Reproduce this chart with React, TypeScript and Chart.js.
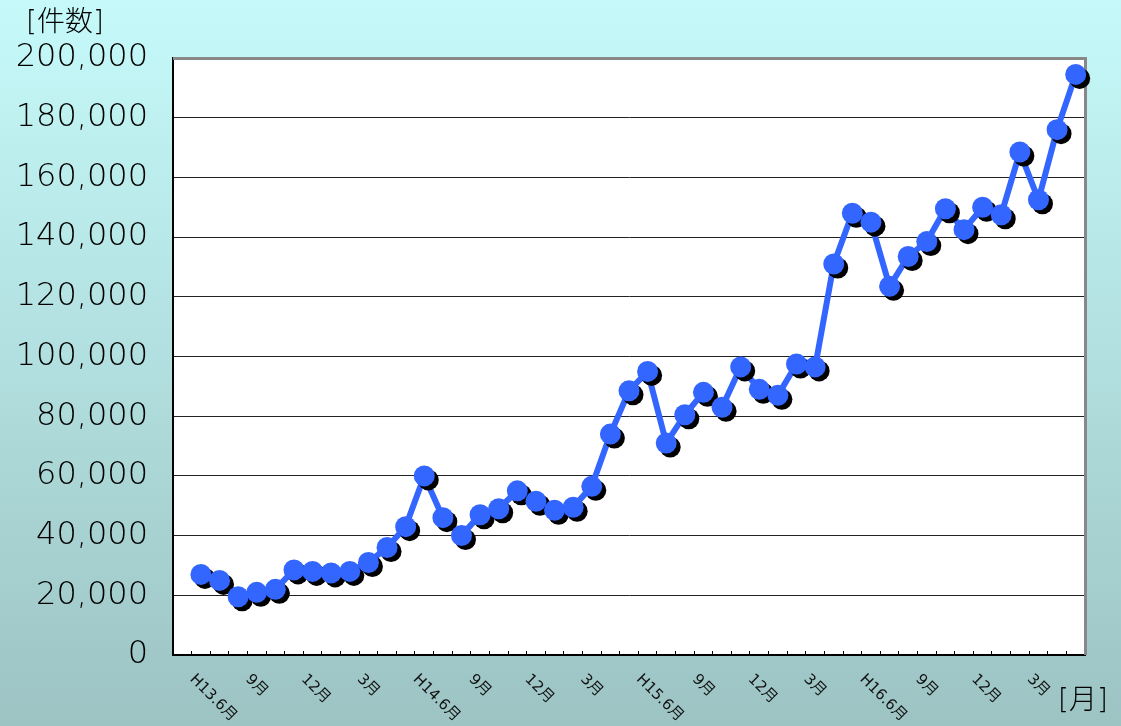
import React, { useEffect, useRef } from 'react';
import { Chart, registerables } from 'chart.js';

Chart.register(...registerables);

// Categories: first slot is an empty category, then June 2001 (H13.6) .. May 2005
const months: string[] = [
  '',
  'H13.6月', '7月', '8月', '9月', '10月', '11月', '12月', '1月', '2月', '3月', '4月', '5月',
  'H14.6月', '7月', '8月', '9月', '10月', '11月', '12月', '1月', '2月', '3月', '4月', '5月',
  'H15.6月', '7月', '8月', '9月', '10月', '11月', '12月', '1月', '2月', '3月', '4月', '5月',
  'H16.6月', '7月', '8月', '9月', '10月', '11月', '12月', '1月', '2月', '3月', '4月', '5月',
];

const counts: (number | null)[] = [
  null,
  27000, 25000, 19500, 21000, 22000, 28500, 28000, 27500, 28000, 31000, 36000, 43000,
  60000, 46000, 40000, 47000, 49000, 55000, 51500, 48500, 49500, 56500, 74000, 88500,
  95000, 71000, 80500, 88000, 83000, 96500, 89000, 87000, 97500, 96500, 131000, 148000,
  145000, 123500, 133500, 138500, 149500, 142500, 150000, 147500, 168500, 152500, 176000, 194500,
];

const yTicks: number[] = [0, 20000, 40000, 60000, 80000, 100000, 120000, 140000, 160000, 180000, 200000];
const yTitle = '[件数]';
const xTitle = '[月]';

const LINE_BLUE = '#3366FF';
const TEXT_FONT = '"DejaVu Sans", "Noto Sans CJK JP", sans-serif';

const decor = {
  id: 'decor',
  beforeDraw(chart: any) {
    const { ctx, width, height, chartArea: a } = chart;
    ctx.save();
    const g = ctx.createLinearGradient(0, 0, 0, height);
    g.addColorStop(0, '#C6FAFA');
    g.addColorStop(1, '#9DC3C3');
    ctx.fillStyle = g;
    ctx.fillRect(0, 0, width, height);
    ctx.fillStyle = '#FFFFFF';
    ctx.fillRect(a.left, a.top, a.right - a.left, a.bottom - a.top);
    ctx.restore();
  },
  beforeDatasetsDraw(chart: any) {
    const { ctx, chartArea: a } = chart;
    ctx.save();
    ctx.strokeStyle = '#888888';
    ctx.lineWidth = 3;
    ctx.beginPath();
    ctx.moveTo(a.left, a.top + 0.5);
    ctx.lineTo(a.right + 0.5, a.top + 0.5);
    ctx.lineTo(a.right + 0.5, a.bottom);
    ctx.stroke();
    ctx.restore();
  },
  beforeDatasetDraw(chart: any, args: any) {
    if (args.index === 0) {
      const ctx = chart.ctx;
      ctx.save();
      ctx.shadowColor = '#000000';
      ctx.shadowOffsetX = 4;
      ctx.shadowOffsetY = 4;
      ctx.shadowBlur = 0;
    }
  },
  afterDatasetDraw(chart: any, args: any) {
    if (args.index === 0) {
      chart.ctx.restore();
    }
  },
  afterDraw(chart: any) {
    const { ctx } = chart;
    const xs = chart.scales.x;
    ctx.save();
    ctx.fillStyle = '#111111';
    ctx.font = `15px ${TEXT_FONT}`;
    months.forEach((m, i) => {
      if (i % 3 !== 1) return;
      const x = xs.getPixelForValue(i);
      ctx.save();
      ctx.translate(x - 9, 677);
      ctx.rotate(Math.PI / 4);
      ctx.textAlign = 'left';
      ctx.textBaseline = 'middle';
      ctx.fillText(m, 0, 0);
      ctx.restore();
    });
    ctx.fillStyle = '#000000';
    ctx.font = `200 28px ${TEXT_FONT}`;
    ctx.textAlign = 'left';
    ctx.textBaseline = 'middle';
    ctx.fillText(yTitle, 26, 24);
    ctx.fillText(xTitle, 1058, 702);
    ctx.restore();
  },
};

export default function App() {
  const ref = useRef<HTMLCanvasElement | null>(null);

  useEffect(() => {
    document.body.style.margin = '0';
    if (!ref.current) return;
    const chart = new Chart(ref.current, {
      type: 'line',
      data: {
        labels: months,
        datasets: [
          {
            label: 'points',
            data: counts,
            showLine: false,
            pointRadius: 10.5,
            pointHoverRadius: 10.5,
            pointBackgroundColor: LINE_BLUE,
            pointBorderWidth: 0,
            clip: false,
          } as any,
          {
            label: 'line',
            data: counts,
            borderColor: LINE_BLUE,
            borderWidth: 6,
            pointRadius: 0,
            fill: false,
            tension: 0,
            spanGaps: false,
          },
        ],
      },
      options: {
        animation: false,
        responsive: true,
        maintainAspectRatio: false,
        layout: { padding: { left: 0, top: 58, right: 36, bottom: 0 } },
        plugins: {
          legend: { display: false },
          tooltip: { enabled: false },
          title: { display: false },
        },
        scales: {
          x: {
            type: 'category',
            offset: true,
            grid: {
              display: true,
              offset: true,
              drawOnChartArea: false,
              drawTicks: true,
              tickLength: -4,
              color: '#000000',
            },
            border: { display: true, color: '#000000', width: 2 },
            ticks: { display: false, autoSkip: false },
            afterFit: (s: any) => {
              s.height = 71;
            },
          },
          y: {
            min: 0,
            max: 200000,
            afterBuildTicks: (s: any) => {
              s.ticks = yTicks.map((v) => ({ value: v }));
            },
            grid: { color: '#222222', lineWidth: 1, drawTicks: false },
            border: { display: true, color: '#000000', width: 2 },
            ticks: {
              padding: 25,
              color: '#000000',
              font: { family: TEXT_FONT, size: 32, weight: '200' as any },
              callback: (v: any) => Number(v).toLocaleString('en-US'),
            },
            afterFit: (s: any) => {
              s.width = 173;
            },
          },
        },
      },
      plugins: [decor],
    });
    return () => chart.destroy();
  }, []);

  return (
    <div style={{ position: 'relative', width: 1121, height: 726 }}>
      <canvas ref={ref} />
    </div>
  );
}
